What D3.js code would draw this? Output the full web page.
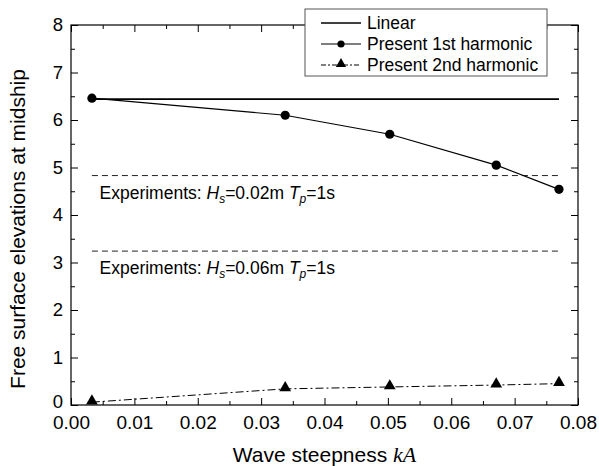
<!DOCTYPE html>
<html><head><meta charset="utf-8">
<script src="https://cdn.jsdelivr.net/npm/d3@7"></script>
<style>body{margin:0;background:#fff}svg{display:block}text{font-family:"Liberation Sans",Arial,sans-serif}</style>
</head><body><svg id="c" width="599" height="466"></svg>
<script>
const steep = [0.0033, 0.0338, 0.0503, 0.0671, 0.0770];
const linear = [6.44, 6.44, 6.44, 6.44, 6.44];
const first = [6.46, 6.10, 5.70, 5.05, 4.54];
const second = [0.06, 0.34, 0.38, 0.42, 0.45];
const expLevels = [4.83, 3.24];
const expLabels = [["0.02m", "1s"], ["0.06m", "1s"]];
const xTicks = [0, 0.01, 0.02, 0.03, 0.04, 0.05, 0.06, 0.07, 0.08];
const yTicks = [0, 1, 2, 3, 4, 5, 6, 7, 8];
const legendNames = ["Linear", "Present 1st harmonic", "Present 2nd harmonic"];

const svg = d3.select("#c");
const L = 71, R = 578, T = 25, B = 405;
const x = d3.scaleLinear().domain([0, 0.08]).range([L, R]);
const y = d3.scaleLinear().domain([0, 8]).range([B, T]);

const xMinor = d3.range(0, 0.0801, 0.005).filter(v => Math.abs(v * 100 - Math.round(v * 100)) > 1e-6);
const yMinor = d3.range(0.5, 8, 1);

function axis(gen, tr) {
  const g = svg.append("g").attr("transform", tr).call(gen);
  g.select(".domain").remove();
  g.selectAll("line").attr("stroke", "#000").attr("stroke-width", 1);
  return g;
}
axis(d3.axisBottom(x).tickValues(xTicks).tickFormat(d3.format(".2f")).tickSizeInner(-7).tickSizeOuter(0).tickPadding(11), `translate(0,${B})`)
  .selectAll("text").attr("font-size", 19).attr("fill", "#000");
axis(d3.axisBottom(x).tickValues(xMinor).tickFormat("").tickSizeInner(-4).tickSizeOuter(0), `translate(0,${B})`);
axis(d3.axisTop(x).tickValues(xTicks).tickFormat("").tickSizeInner(-7).tickSizeOuter(0), `translate(0,${T})`);
axis(d3.axisTop(x).tickValues(xMinor).tickFormat("").tickSizeInner(-4).tickSizeOuter(0), `translate(0,${T})`);
const yl = axis(d3.axisLeft(y).tickValues(yTicks).tickFormat(d3.format("d")).tickSizeInner(-7).tickSizeOuter(0).tickPadding(8), `translate(${L},0)`);
yl.selectAll("text").attr("font-size", 18.5).attr("fill", "#000");
yl.selectAll("text").filter(d => d === 0).attr("dy", "0.12em");
axis(d3.axisLeft(y).tickValues(yMinor).tickFormat("").tickSizeInner(-4).tickSizeOuter(0), `translate(${L},0)`);
axis(d3.axisRight(y).tickValues(yTicks).tickFormat("").tickSizeInner(-7).tickSizeOuter(0), `translate(${R},0)`);
axis(d3.axisRight(y).tickValues(yMinor).tickFormat("").tickSizeInner(-4).tickSizeOuter(0), `translate(${R},0)`);

svg.append("rect").attr("x", L).attr("y", T).attr("width", R - L).attr("height", B - T)
  .attr("fill", "none").attr("stroke", "#000").attr("stroke-width", 1.2);

const line = d3.line().x(d => x(d[0])).y(d => y(d[1]));

expLevels.forEach((lv, i) => {
  svg.append("path").attr("d", line([[steep[0], lv], [steep[4], lv]]))
    .attr("stroke", "#222").attr("stroke-width", 1).attr("stroke-dasharray", "6,4").attr("fill", "none");
  const t = svg.append("text").attr("x", x(0.0045)).attr("y", y(lv) + 23).attr("font-size", 17.5).attr("fill", "#000");
  t.append("tspan").text("Experiments: ");
  t.append("tspan").attr("font-style", "italic").text("H");
  t.append("tspan").attr("font-style", "italic").attr("font-size", 12).attr("dy", 4).text("s");
  t.append("tspan").attr("dy", -4).text("=" + expLabels[i][0] + " ");
  t.append("tspan").attr("font-style", "italic").text("T");
  t.append("tspan").attr("font-style", "italic").attr("font-size", 12).attr("dy", 4).text("p");
  t.append("tspan").attr("dy", -4).text("=" + expLabels[i][1]);
});

svg.append("path").attr("d", line(steep.map((s, i) => [s, linear[i]])))
  .attr("stroke", "#000").attr("stroke-width", 1.6).attr("fill", "none");
svg.append("path").attr("d", line(steep.map((s, i) => [s, first[i]])))
  .attr("stroke", "#000").attr("stroke-width", 1.2).attr("fill", "none");
svg.selectAll(".c1").data(steep).enter().append("circle")
  .attr("cx", d => x(d)).attr("cy", (d, i) => y(first[i])).attr("r", 4.6).attr("fill", "#000");
svg.append("path").attr("d", line(steep.map((s, i) => [s, second[i]])))
  .attr("stroke", "#000").attr("stroke-width", 1).attr("stroke-dasharray", "8,3,2,3").attr("fill", "none");
const tri = d3.symbol().type(d3.symbolTriangle).size(60);
svg.selectAll(".t2").data(steep).enter().append("path")
  .attr("d", tri).attr("transform", (d, i) => `translate(${x(d)},${y(second[i]) - 1})`).attr("fill", "#000");

const lg = svg.append("g");
lg.append("rect").attr("x", 305).attr("y", 9).attr("width", 242).attr("height", 67)
  .attr("fill", "#fff").attr("stroke", "#555").attr("stroke-width", 1);
const rows = [23, 44, 65];
legendNames.forEach((n, i) => {
  const ln = lg.append("line").attr("x1", 321).attr("x2", 361).attr("y1", rows[i]).attr("y2", rows[i])
    .attr("stroke", "#000").attr("stroke-width", i === 0 ? 1.6 : 1.2);
  if (i === 2) ln.attr("stroke-dasharray", "5,2,2,2").attr("stroke-width", 1);
  if (i === 1) lg.append("circle").attr("cx", 341).attr("cy", rows[i]).attr("r", 3.6).attr("fill", "#000");
  if (i === 2) lg.append("path").attr("d", d3.symbol().type(d3.symbolTriangle).size(45)).attr("transform", `translate(341,${rows[i] - 1})`).attr("fill", "#000");
  lg.append("text").attr("x", 367).attr("y", rows[i] + 6).attr("font-size", 17.5).attr("fill", "#000").text(n);
});

const xt = svg.append("text").attr("x", (L + R) / 2).attr("y", 462).attr("text-anchor", "middle").attr("font-size", 21).attr("fill", "#000");
xt.append("tspan").text("Wave steepness ");
xt.append("tspan").attr("font-family", "Liberation Serif, Times New Roman, serif").attr("font-style", "italic").attr("font-size", 22).text("kA");
svg.append("text").attr("transform", `translate(25,229) rotate(-90)`).attr("text-anchor", "middle")
  .attr("font-size", 21).attr("fill", "#000").text("Free surface elevations at midship");
</script></body></html>
